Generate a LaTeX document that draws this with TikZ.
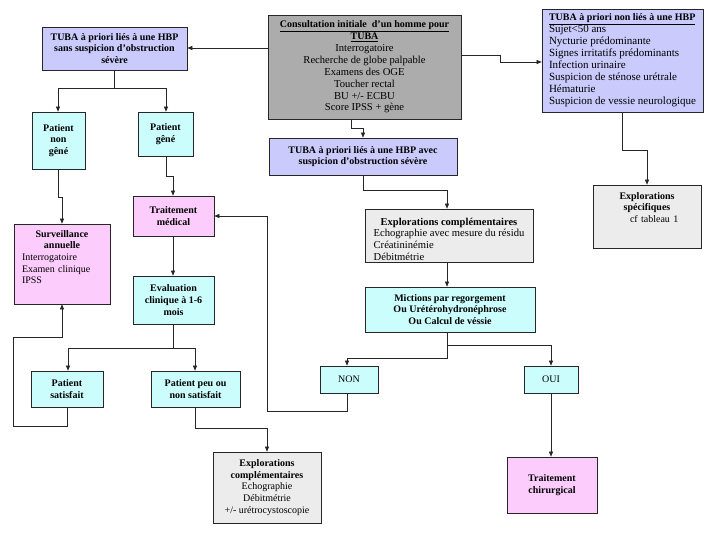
\documentclass[tikz,border=0pt]{standalone}
\usepackage{fontspec}
\setmainfont{Liberation Serif}
\usetikzlibrary{arrows.meta,shadows}
\setlength\parindent{0pt}
\definecolor{lav}{RGB}{202,202,252}
\definecolor{cy}{RGB}{204,253,253}
\definecolor{pk}{RGB}{252,204,252}
\definecolor{lg}{RGB}{236,236,236}
\definecolor{gr}{RGB}{172,172,172}
\newcommand\mkbox[7]{%
  \node[box,fill=#6,minimum width={(#4-#2)*1pt},minimum height={(#5-#3)*1pt}]
    (#1) at ({(#2+#4)/2},{(#3+#5)/2}) {#7};}
\newcommand\bigtxt{\fontsize{11}{12}\selectfont}
\newcommand\midtxt{\fontsize{10.6}{11.9}\selectfont}
\begin{document}
\begin{tikzpicture}[x=1pt,y=-1pt,
  box/.style={draw=black!85, line width=0.7pt, inner sep=1pt, align=center,
    font=\fontsize{10}{11.7}\selectfont,
    drop shadow={shadow xshift=1.3pt, shadow yshift=-1.3pt, fill=black!60, opacity=1}},
  txt/.style={inner sep=0pt, font=\fontsize{10}{11.7}\selectfont},
  conn/.style={line width=0.6pt, draw=black!85},
  arr/.style={conn, -{Triangle[length=5pt,width=4pt]}}]
\fill[white] (0,0) rectangle (720,540);
\useasboundingbox (0,0) rectangle (720,540);

% boxes
\node[box,fill=gr,font=\midtxt,minimum width=193pt,minimum height=104pt] (cons) at (364.5,67)
  {{\fontsize{10}{11.9}\selectfont\textbf{\underline{Consultation initiale\ \ d’un homme pour}}}\\{\fontsize{10}{11.9}\selectfont\textbf{\underline{TUBA}}}\\Interrogatoire\\Recherche de globe palpable\\Examens des OGE\\Toucher rectal\\BU +/- ECBU\\Score IPSS + gène};
\mkbox{tl}{42}{27}{187}{70}{lav}{\textbf{TUBA à priori liés à une HBP}\\\textbf{sans suspicion d’obstruction}\\\textbf{sévère}}
\node[box,fill=lav,align=left,font=\bigtxt,minimum width=161pt,minimum height=103pt] (tr) at (622.5,60.5)
  {{\fontsize{10}{12}\selectfont\textbf{\underline{TUBA à priori non liés à une HBP}}}\\Sujet<50 ans\\Nycturie prédominante\\Signes irritatifs prédominants\\Infection urinaire\\Suspicion de sténose urétrale\\Hématurie\\Suspicion de vessie neurologique};
\mkbox{avec}{269}{138}{457}{175}{lav}{\textbf{TUBA à priori liés à une HBP avec}\\\textbf{suspicion d’obstruction sévère}}
\mkbox{expl}{365}{209}{533}{262}{lg}{}
\node[txt,anchor=north,font=\midtxt] (explt) at (449,216.5)
  {\begin{tabular}{@{}l@{}}\multicolumn{1}{@{}c@{}}{\fontsize{10.5}{11.7}\selectfont\textbf{Explorations complémentaires}}\\Echographie avec mesure du résidu\\Créatininémie\\Débitmétrie\end{tabular}};
\mkbox{mict}{365}{287}{535}{332}{cy}{\textbf{Mictions par regorgement}\\\textbf{Ou Urétérohydronéphrose}\\\textbf{Ou Calcul de véssie}}
\mkbox{non}{320}{366}{378}{393}{cy}{NON}
\mkbox{oui}{524}{366}{578}{393}{cy}{OUI}
\mkbox{chir}{507}{457}{597}{513}{pk}{\textbf{Traitement}\\\textbf{chirurgical}}
\mkbox{spec}{593}{185}{701}{248}{lg}{}
\node[txt,anchor=north,align=left,text width=100pt] (spect) at (647,192)
  {{\centering\textbf{Explorations}\par\textbf{spécifiques}\par}\hspace*{33pt}cf tableau 1};
\mkbox{ex2}{213}{452}{321}{523}{lg}{\textbf{Explorations}\\\textbf{complémentaires}\\Echographie\\Débitmétrie\\+/- urétrocystoscopie}
\mkbox{ng}{32}{112}{85}{169}{cy}{\textbf{Patient}\\\textbf{non}\\\textbf{gêné}}
\mkbox{g}{138}{112}{193}{156}{cy}{\textbf{Patient}\\\textbf{gêné}}
\mkbox{med}{133}{196}{214}{236}{pk}{\textbf{Traitement}\\\textbf{médical}}
\mkbox{ev}{133}{276}{214}{324}{cy}{\textbf{Evaluation}\\\textbf{clinique à 1-6}\\\textbf{mois}}
\mkbox{sat}{31}{371}{103}{407}{cy}{\textbf{Patient}\\\textbf{satisfait}}
\mkbox{peu}{151}{371}{240}{407}{cy}{\textbf{Patient peu ou}\\\textbf{non satisfait}}
\mkbox{surv}{14}{224}{110}{304}{pk}{}
\node[txt,anchor=north,align=left,text width=80pt] (survt) at (62,230)
  {{\centering\textbf{Surveillance}\par\textbf{annuelle}\par}Interrogatoire\par Examen clinique\par IPSS};

% connectors
\draw[arr] (cons.west |- 0,48) -- (tl.east |- 0,48);
\draw[arr] (cons.east |- 0,55) -- (500,55) -- (500,62) -- (tr.west |- 0,62);
\draw[arr] (cons.south -| 351,0) -- (351,128) -- (363,128) -- (avec.north -| 363,0);
\draw[arr] (avec.south -| 363,0) -- (363,190) -- (447,190) -- (expl.north -| 447,0);
\draw[arr] (expl.south -| 447,0) -- (mict.north -| 447,0);
\draw[arr] (mict.south -| 447,0) -- (447,345) -- (551,345) -- (oui.north -| 551,0);
\draw[arr] (mict.south -| 447,0) -- (447,358) -- (347,358) -- (non.north -| 347,0);
\draw[arr] (oui.south -| 551,0) -- (chir.north -| 551,0);
\draw[arr] (non.south -| 347,0) -- (347,411) -- (267,411) -- (267,216) -- (med.east |- 0,216);
\draw[arr] (tl.south -| 114,0) -- (114,88) -- (58,88) -- (ng.north -| 58,0);
\draw[arr] (tl.south -| 114,0) -- (114,88) -- (166,88) -- (g.north -| 166,0);
\draw[arr] (g.south -| 166,0) -- (166,176) -- (173,176) -- (med.north -| 173,0);
\draw[arr] (ng.south -| 58,0) -- (58,197) -- (62,197) -- (surv.north -| 62,0);
\draw[arr] (med.south -| 173,0) -- (ev.north -| 173,0);
\draw[arr] (ev.south -| 173,0) -- (173,348) -- (68,348) -- (sat.north -| 68,0);
\draw[arr] (ev.south -| 173,0) -- (173,348) -- (195,348) -- (peu.north -| 195,0);
\draw[arr] (sat.south -| 67,0) -- (67,426) -- (13,426) -- (13,337) -- (62,337) -- (surv.south -| 62,0);
\draw[arr] (peu.south -| 195,0) -- (195,428) -- (267,428) -- (ex2.north -| 267,0);
\draw[arr] (tr.south -| 622,0) -- (622,150) -- (647,150) -- (spec.north -| 647,0);
\end{tikzpicture}
\end{document}
